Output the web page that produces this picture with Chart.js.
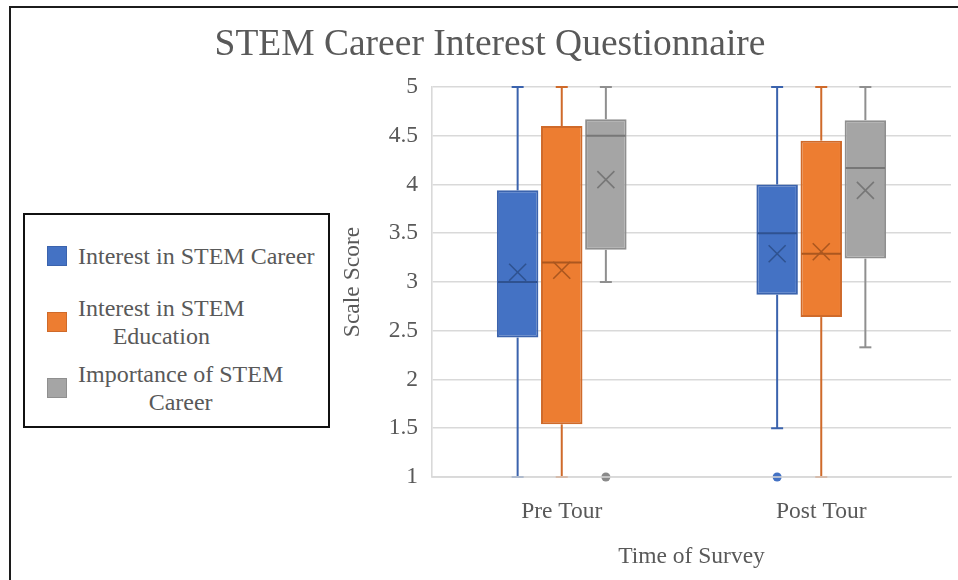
<!DOCTYPE html>
<html>
<head>
<meta charset="utf-8">
<title>STEM Career Interest Questionnaire</title>
<script src="https://cdn.jsdelivr.net/npm/chart.js@4.4.0/dist/chart.umd.min.js"></script>
<style>
  html, body { margin: 0; padding: 0; background: #fff; }
  #wrap { position: relative; width: 958px; height: 580px; overflow: hidden;
          font-family: "Liberation Serif", "Times New Roman", serif; }
  #frame { position: absolute; left: 9px; top: 6px; right: -10px; bottom: -10px;
           border-top: 2px solid #1c1c1c; border-left: 2px solid #1c1c1c; }
  canvas { position: absolute; left: 0; top: 0; }
  #legend { position: absolute; left: 23px; top: 213px; width: 307px; height: 215px;
            box-sizing: border-box; border: 2px solid #111; padding: 8px 0 0 22px; background: #fff; }
  .row { display: flex; align-items: center; height: 66px; }
  .sw { flex: none; width: 20px; height: 20px; box-sizing: border-box; border: 1px solid; margin-right: 11px; }
  .txt { text-align: center; font-size: 24px; line-height: 28px; color: #595959; white-space: nowrap; }
</style>
</head>
<body>
<div id="wrap">
  <canvas id="chart" width="958" height="580"></canvas>
  <div id="frame"></div>
  <div id="legend"></div>
</div>
<script>
// Survey timing (x categories) and the three measured scales
const categories = ['Pre Tour', 'Post Tour'];
const seriesNames = ['Interest in STEM Career', 'Interest in STEM Education', 'Importance of STEM Career'];
const legendLines = [['Interest in STEM Career'], ['Interest in STEM', 'Education'], ['Importance of STEM', 'Career']];

// Interest in STEM Career
const careerMin = [1, 1.5];
const careerQ1 = [2.43, 2.87];
const careerMedian = [3.0, 3.5];
const careerQ3 = [3.94, 4.0];
const careerMax = [5, 5];
const careerMean = [3.10, 3.29];
const careerOutliers = [[], [1]];

// Interest in STEM Education
const educationMin = [1, 1];
const educationQ1 = [1.54, 2.64];
const educationMedian = [3.2, 3.29];
const educationQ3 = [4.6, 4.45];
const educationMax = [5, 5];
const educationMean = [3.12, 3.31];
const educationOutliers = [[], []];

// Importance of STEM Career
const importanceMin = [3, 2.33];
const importanceQ1 = [3.33, 3.24];
const importanceMedian = [4.5, 4.17];
const importanceQ3 = [4.67, 4.66];
const importanceMax = [5, 5];
const importanceMean = [4.05, 3.94];
const importanceOutliers = [[1], []];

// Scale Score ticks
const yTicks = [1, 1.5, 2, 2.5, 3, 3.5, 4, 4.5, 5];

// Colours per series
const fills = ['#4472C4', '#ED7D31', '#A5A5A5'];
const edges = ['#3b63ad', '#cf6a2a', '#8f8f8f'];
const marks = ['#2f5290', '#ab571f', '#777777'];

const FONT = '"Liberation Serif", "Times New Roman", serif';
const TEXT = '#595959';
const GRID = '#d9d9d9';

const stats = [
  { min: careerMin, q1: careerQ1, median: careerMedian, q3: careerQ3, max: careerMax, mean: careerMean, outliers: careerOutliers },
  { min: educationMin, q1: educationQ1, median: educationMedian, q3: educationQ3, max: educationMax, mean: educationMean, outliers: educationOutliers },
  { min: importanceMin, q1: importanceQ1, median: importanceMedian, q3: importanceQ3, max: importanceMax, mean: importanceMean, outliers: importanceOutliers }
];

// Each box is a floating bar from Q1 to Q3
const datasets = stats.map((s, i) => ({
  label: seriesNames[i],
  data: s.q1.map((q1, k) => [q1, s.q3[k]]),
  backgroundColor: fills[i],
  borderColor: edges[i],
  borderWidth: 2,
  borderSkipped: false,
  categoryPercentage: 0.51,
  barPercentage: 0.94,
  stats: s
}));

function line(ctx, x1, y1, x2, y2) {
  ctx.beginPath();
  ctx.moveTo(x1, y1);
  ctx.lineTo(x2, y2);
  ctx.stroke();
}

// Whiskers behind the boxes; medians, means and outliers on top
const boxPlotParts = {
  id: 'boxPlotParts',
  beforeDatasetsDraw(chart) {
    const { ctx, scales: { y } } = chart;
    ctx.save();
    chart.data.datasets.forEach((ds, di) => {
      const s = ds.stats;
      chart.getDatasetMeta(di).data.forEach((bar, i) => {
        const x = bar.x;
        ctx.strokeStyle = edges[di];
        ctx.lineWidth = 2;
        line(ctx, x, y.getPixelForValue(s.q3[i]), x, y.getPixelForValue(s.max[i]));
        line(ctx, x, y.getPixelForValue(s.q1[i]), x, y.getPixelForValue(s.min[i]));
        const yMax = y.getPixelForValue(s.max[i]);
        const yMin = y.getPixelForValue(s.min[i]);
        line(ctx, x - 6, yMax, x + 6, yMax);
        line(ctx, x - 6, yMin, x + 6, yMin);
      });
    });
    ctx.restore();
  },
  afterDatasetsDraw(chart) {
    const { ctx, chartArea, scales: { y } } = chart;
    ctx.save();
    chart.data.datasets.forEach((ds, di) => {
      const s = ds.stats;
      chart.getDatasetMeta(di).data.forEach((bar, i) => {
        const x = bar.x;
        const half = bar.width / 2 - 1;
        // median
        ctx.strokeStyle = marks[di];
        ctx.lineWidth = 2;
        const ym = y.getPixelForValue(s.median[i]);
        line(ctx, x - half, ym, x + half, ym);
        // mean marker (x)
        const ya = y.getPixelForValue(s.mean[i]);
        ctx.lineWidth = 1.6;
        line(ctx, x - 8.5, ya - 8.5, x + 8.5, ya + 8.5);
        line(ctx, x - 8.5, ya + 8.5, x + 8.5, ya - 8.5);
        // outliers
        s.outliers[i].forEach(v => {
          ctx.fillStyle = di === 2 ? '#8a8a8a' : fills[di];
          ctx.beginPath();
          ctx.arc(x, y.getPixelForValue(v), 4.5, 0, Math.PI * 2);
          ctx.fill();
        });
      });
    });
    // horizontal axis line over the lowest marks
    const y0 = y.getPixelForValue(yTicks[0]);
    ctx.strokeStyle = GRID;
    ctx.lineWidth = 1.6;
    line(ctx, chartArea.left, y0, chartArea.right, y0);
    ctx.restore();
  }
};

new Chart(document.getElementById('chart'), {
  type: 'bar',
  data: { labels: categories, datasets },
  plugins: [boxPlotParts],
  options: {
    responsive: false,
    animation: false,
    layout: { padding: { left: 29, right: 7, top: 0, bottom: 0 } },
    plugins: {
      legend: { display: false },
      tooltip: { enabled: false },
      title: {
        display: true,
        text: 'STEM Career Interest Questionnaire',
        color: TEXT,
        font: { family: FONT, size: 37.5, weight: 'normal', lineHeight: 1.2 },
        padding: { top: 23, bottom: 19 }
      }
    },
    scales: {
      x: {
        type: 'category',
        afterFit(scale) { scale.height = 103; },
        grid: { display: false },
        border: { display: true, color: GRID, width: 1.6 },
        ticks: { color: TEXT, font: { family: FONT, size: 23.5 }, padding: 13 },
        title: {
          display: true, text: 'Time of Survey', color: TEXT,
          font: { family: FONT, size: 23.5, lineHeight: 1.2 },
          padding: { top: 0, bottom: 9 }
        }
      },
      y: {
        min: yTicks[0],
        max: yTicks[yTicks.length - 1],
        afterFit(scale) { scale.width = 403; },
        afterBuildTicks(scale) { scale.ticks = yTicks.map(v => ({ value: v })); },
        grid: { color: GRID, lineWidth: 1.6, drawTicks: false },
        border: { display: true, color: GRID, width: 1.6 },
        ticks: {
          color: TEXT, font: { family: FONT, size: 23.5 }, padding: 14,
          callback: v => String(v)
        },
        title: {
          display: true, text: 'Scale Score', color: TEXT,
          font: { family: FONT, size: 23.5, lineHeight: 1.2 },
          padding: { top: 310, bottom: 0 }
        }
      }
    }
  }
});

// Legend: coloured squares with the series names
const legend = document.getElementById('legend');
seriesNames.forEach((name, i) => {
  const row = document.createElement('div');
  row.className = 'row';
  const sw = document.createElement('span');
  sw.className = 'sw';
  sw.style.background = fills[i];
  sw.style.borderColor = edges[i];
  const txt = document.createElement('span');
  txt.className = 'txt';
  txt.innerHTML = legendLines[i].join('<br>');
  row.appendChild(sw);
  row.appendChild(txt);
  legend.appendChild(row);
});
</script>
</body>
</html>
